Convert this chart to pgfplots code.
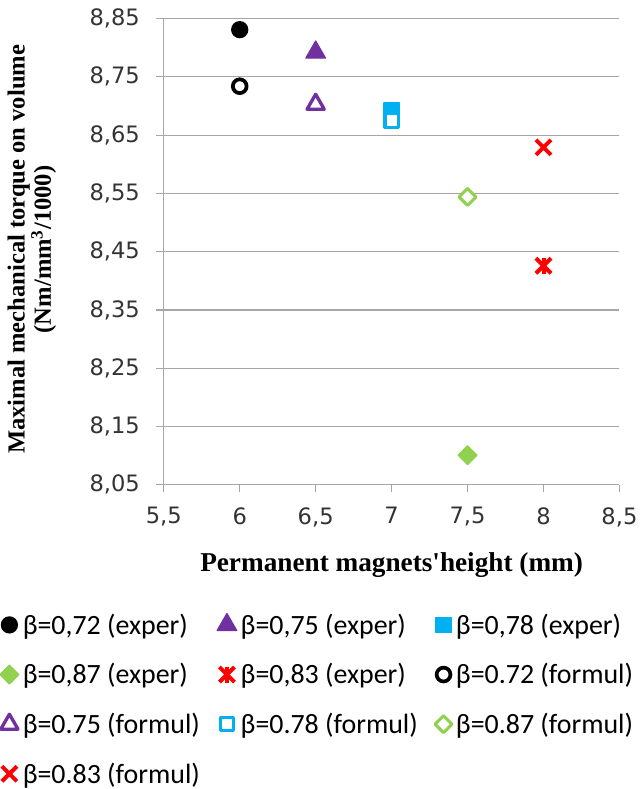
\documentclass[border=0pt]{standalone}
\usepackage{pgfplots}
\pgfplotsset{compat=1.18}
\usepackage{fontspec}
\setmainfont{Carlito}
\newfontfamily\tickfont{DejaVu Sans}
\newfontfamily\labfont{Liberation Serif}

\definecolor{mpurple}{HTML}{7030A0}
\definecolor{mblue}{HTML}{00B0F0}
\definecolor{mgreen}{HTML}{92D050}
\definecolor{mred}{HTML}{FF0000}
\definecolor{mgrid}{HTML}{A6A6A6}

\pgfplotsset{
	dotlegend/.style={legend image code/.code={\draw[##1, only marks] plot coordinates {(0pt,0pt)};}},
	starlegend/.style={legend image code/.code={\draw[##1, only marks] plot coordinates {(0pt,0pt)}; \draw[##1, only marks, mark=|, mark size=6pt] plot coordinates {(0pt,0pt)};}},
}

\begin{document}
\begin{tikzpicture}
\begin{axis}[
	scale only axis,
	width=343pt, height=351pt,
	xmin=5.5, xmax=8.5,
	ymin=8.05, ymax=8.85,
	xtick={5.5,6,6.5,7,7.5,8,8.5},
	ytick={8.05,8.15,8.25,8.35,8.45,8.55,8.65,8.75,8.85},
	axis lines=left,
	axis line style={-, mgrid, line width=0.9pt},
	ymajorgrids,
	grid style={mgrid, line width=0.9pt},
	tick style={mgrid, line width=0.9pt},
	tick align=outside,
	major tick length=5.5pt,
	/pgf/number format/assume math mode=true,
	ticklabel style={font=\tickfont\fontsize{17}{20}\selectfont, text=black!80},
	xticklabel style={/pgf/number format/.cd, fixed, precision=1, use comma, /tikz/.cd, yshift=-8pt},
	yticklabel style={/pgf/number format/.cd, fixed, fixed zerofill, precision=2, use comma, /tikz/.cd, xshift=-9pt},
	xlabel={Permanent magnets'height (mm)},
	xlabel style={font=\labfont\bfseries\fontsize{20.5}{24}\selectfont, at={(axis description cs:0.5,0)}, anchor=center, yshift=-60pt},
	ylabel={\begin{tabular}{c}Maximal mechanical torque on volume\\(Nm/mm\textsuperscript{3}/1000)\end{tabular}},
	ylabel style={font=\labfont\bfseries\fontsize{18.5}{16.5}\selectfont, at={(axis description cs:-0.288,0.505)}, anchor=center},
	legend columns=3,
	legend cell align=left,
	legend style={draw=none, fill=none, at={(axis description cs:-0.36,-0.27)}, anchor=north west,
		font=\fontsize{21}{25}\selectfont, inner sep=0pt,
		row sep=16.5pt,
		/tikz/every even column/.append style={column sep=11pt},
		/tikz/every odd column/.append style={column sep=1pt}},
	dotlegend,
	every axis plot/.append style={only marks, line join=round},
]
% experimental
\addplot[mark=*, mark size=6pt, draw=black, fill=black, line width=1pt] coordinates {(6,8.831)};
\addlegendentry{β=0,72 (exper)}
\addplot[mark=triangle*, mark size=8.5pt, draw=mpurple, fill=mpurple, line width=1pt] coordinates {(6.5,8.792)};
\addlegendentry{β=0,75 (exper)}
\addplot[mark=square*, mark size=5.8pt, draw=mblue, fill=mblue, line width=1pt] coordinates {(7,8.692)};
\addlegendentry{β=0,78 (exper)}
\addplot[mark=square*, mark options={rotate=45}, mark size=5pt, draw=mgreen, fill=mgreen, line width=1pt] coordinates {(7.5,8.101)};
\addlegendentry{β=0,87 (exper)}
\addplot[mark=x, mark size=8pt, draw=mred, line width=3pt, starlegend] coordinates {(8,8.426)};
\addlegendentry{β=0,83 (exper)}
\addplot[mark=|, mark size=6pt, draw=mred, line width=3pt, forget plot] coordinates {(8,8.426)};
% formula
\addplot[mark=*, mark size=5.2pt, draw=black, fill=white, line width=2.8pt] coordinates {(6,8.734)};
\addlegendentry{β=0.72 (formul)}
\addplot[mark=triangle*, mark size=7.5pt, draw=mpurple, fill=white, line width=2.5pt] coordinates {(6.5,8.703)};
\addlegendentry{β=0.75 (formul)}
\addplot[mark=square*, mark size=5pt, draw=mblue, fill=white, line width=2.3pt] coordinates {(7,8.675)};
\addlegendentry{β=0.78 (formul)}
\addplot[mark=square*, mark options={rotate=45}, mark size=4.5pt, draw=mgreen, fill=white, line width=2.3pt] coordinates {(7.5,8.544)};
\addlegendentry{β=0.87 (formul)}
\addplot[mark=x, mark size=8pt, draw=mred, line width=3pt] coordinates {(8,8.629)};
\addlegendentry{β=0.83 (formul)}
\end{axis}
\path (rel axis cs:0,1) ++(0,14pt);
\path (current bounding box.south west) ++(0,-1pt);
\end{tikzpicture}
\end{document}
